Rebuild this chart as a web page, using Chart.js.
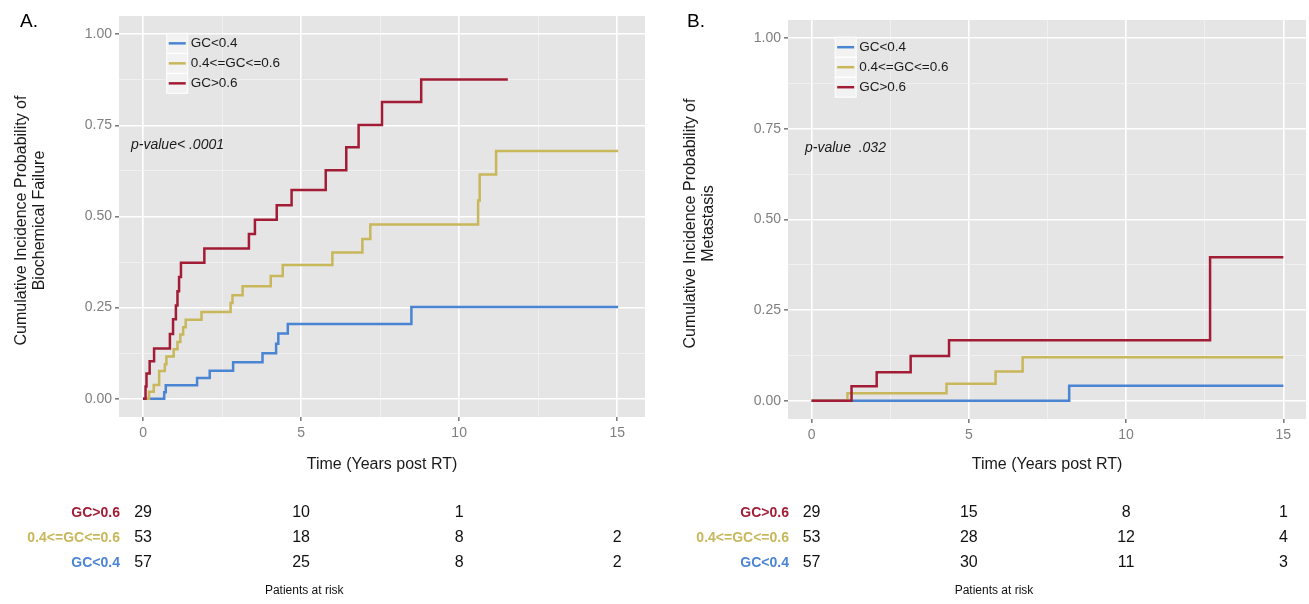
<!DOCTYPE html>
<html>
<head>
<meta charset="utf-8">
<script src="https://cdn.jsdelivr.net/npm/chart.js@4.4.0/dist/chart.umd.min.js"></script>
<style>
html, body { margin: 0; padding: 0; background: #fff; }
#wrap { position: relative; width: 1309px; height: 604px; }
canvas { position: absolute; top: 0; }
</style>
</head>
<body>
<div id="wrap">
  <canvas id="panelA" width="655" height="604" style="left:0"></canvas>
  <canvas id="panelB" width="654" height="604" style="left:655px"></canvas>
</div>
<script>
const FONT = "'Liberation Sans', Arial, sans-serif";

// groups, in legend order
const groupLabels = ['GC<0.4', '0.4<=GC<=0.6', 'GC>0.6'];
const groupColors = ['#4a85d3', '#c8b75b', '#a31c35'];

// A. biochemical failure (time in years, cumulative incidence)
const bfLowTimes  = [0, 0.67, 0.72, 1.71, 2.11, 2.85, 3.78, 4.21, 4.28, 4.58, 8.49, 15.03];
const bfLowValues = [0, 0.018, 0.037, 0.057, 0.077, 0.100, 0.125, 0.151, 0.179, 0.205, 0.252, 0.252];
const bfMidTimes  = [0, 0.19, 0.34, 0.51, 0.69, 0.74, 0.97, 1.09, 1.18, 1.27, 1.35, 1.85, 2.77, 2.83, 3.15, 4.04, 4.42, 5.99, 6.94, 7.19, 10.60, 10.65, 11.17, 15.03];
const bfMidValues = [0, 0.019, 0.038, 0.076, 0.095, 0.116, 0.136, 0.156, 0.176, 0.196, 0.217, 0.238, 0.263, 0.284, 0.309, 0.337, 0.367, 0.401, 0.438, 0.478, 0.544, 0.615, 0.680, 0.680];
const bfHighTimes  = [0, 0.08, 0.11, 0.21, 0.35, 0.85, 0.95, 1.04, 1.09, 1.14, 1.20, 1.94, 3.35, 3.54, 4.23, 4.70, 5.78, 6.43, 6.82, 7.56, 8.80, 11.54];
const bfHighValues = [0, 0.034, 0.069, 0.103, 0.138, 0.178, 0.218, 0.256, 0.295, 0.334, 0.373, 0.412, 0.452, 0.491, 0.531, 0.573, 0.627, 0.690, 0.751, 0.814, 0.876, 0.876];

// B. metastasis
const metLowTimes  = [0, 8.19, 15.0];
const metLowValues = [0, 0.042, 0.042];
const metMidTimes  = [0, 1.14, 4.29, 5.85, 6.71, 15.0];
const metMidValues = [0, 0.021, 0.047, 0.081, 0.120, 0.120];
const metHighTimes  = [0, 1.27, 2.07, 3.15, 4.37, 12.67, 15.0];
const metHighValues = [0, 0.040, 0.079, 0.124, 0.167, 0.396, 0.396];

// patients at risk
const riskTimes = [0, 5, 10, 15];
const riskRowLabels = ['GC>0.6', '0.4<=GC<=0.6', 'GC<0.4'];
const riskRowColors = ['#a31c35', '#c8b75b', '#4a85d3'];
const bfRiskHigh = [29, 10, 1, null];
const bfRiskMid  = [53, 18, 8, 2];
const bfRiskLow  = [57, 25, 8, 2];
const metRiskHigh = [29, 15, 8, 1];
const metRiskMid  = [53, 28, 12, 4];
const metRiskLow  = [57, 30, 11, 3];

// grid / tick values
const xGridValues = [0, 2.5, 5, 7.5, 10, 12.5, 15];
const yGridValues = [0, 0.125, 0.25, 0.375, 0.5, 0.625, 0.75, 0.875, 1];

const isMajorX = v => v % 5 === 0;
const isMajorY = v => v % 0.25 === 0;

const decor = {
  id: 'decor',
  beforeDraw(chart, args, o) {
    const { ctx, chartArea: a } = chart;
    ctx.save();
    ctx.fillStyle = '#e5e5e5';
    ctx.fillRect(a.left, a.top, a.right - a.left, a.bottom - a.top);
    ctx.restore();
  },
  afterDraw(chart, args, o) {
    const { ctx, chartArea: a, scales: { x, y } } = chart;
    ctx.save();

    // panel letter
    ctx.fillStyle = '#000';
    ctx.font = '19px ' + FONT;
    ctx.textAlign = 'left';
    ctx.textBaseline = 'middle';
    ctx.fillText(o.letter, o.letterX, 22);

    // y title
    ctx.save();
    ctx.translate(o.yTitleX, (a.top + a.bottom) / 2 + 4);
    ctx.rotate(-Math.PI / 2);
    ctx.font = '16px ' + FONT;
    ctx.fillStyle = '#1a1a1a';
    ctx.textAlign = 'center';
    o.yTitle.forEach((line, i) => ctx.fillText(line, 0, i * 18));
    ctx.restore();

    // x title
    ctx.font = '16px ' + FONT;
    ctx.fillStyle = '#1a1a1a';
    ctx.textAlign = 'center';
    ctx.fillText('Time (Years post RT)', (a.left + a.right) / 2, 465);

    // p-value
    ctx.font = 'italic 14px ' + FONT;
    ctx.textAlign = 'left';
    ctx.fillText(o.pValue, a.left + o.pValueDx, y.getPixelForValue(0.697));

    // legend, inside the panel
    const lx = x.getPixelForValue(0.75);
    const ly = y.getPixelForValue(0.975);
    ctx.fillStyle = '#f2f2f2';
    ctx.fillRect(lx, ly - 10, 21, 60);
    ctx.strokeStyle = '#fff';
    ctx.lineWidth = 1;
    for (let i = 0; i < 3; i++) ctx.strokeRect(lx, ly - 10 + i * 20, 21, 20);
    groupLabels.forEach((lab, i) => {
      const yy = ly + i * 20;
      ctx.strokeStyle = groupColors[i];
      ctx.lineWidth = 2.5;
      ctx.beginPath();
      ctx.moveTo(lx + 2, yy);
      ctx.lineTo(lx + 19, yy);
      ctx.stroke();
      ctx.fillStyle = '#1a1a1a';
      ctx.font = '13.5px ' + FONT;
      ctx.textAlign = 'left';
      ctx.fillText(lab, lx + 24, yy);
    });

    // patients at risk table
    const rowY = [513, 538, 563];
    o.risk.forEach((row, r) => {
      ctx.font = 'bold 14px ' + FONT;
      ctx.fillStyle = riskRowColors[r];
      ctx.textAlign = 'right';
      ctx.fillText(riskRowLabels[r], a.left + o.riskLabelDx, rowY[r]);
      ctx.font = '16px ' + FONT;
      ctx.fillStyle = '#111';
      ctx.textAlign = 'center';
      row.forEach((n, i) => {
        if (n === null) return;
        ctx.fillText(String(n), x.getPixelForValue(riskTimes[i]), rowY[r]);
      });
    });
    ctx.font = '12px ' + FONT;
    ctx.fillStyle = '#111';
    ctx.textAlign = 'center';
    ctx.fillText('Patients at risk', x.getPixelForValue(o.riskTitleAt), 591);

    ctx.restore();
  }
};

function steps(times, values) {
  return times.map((t, i) => ({ x: t, y: values[i] }));
}

function makePanel(id, p) {
  const canvas = document.getElementById(id);
  const series = [
    { times: p.lowT, values: p.lowV },
    { times: p.midT, values: p.midV },
    { times: p.highT, values: p.highV }
  ];
  new Chart(canvas, {
    type: 'line',
    data: {
      datasets: series.map((s, i) => ({
        label: groupLabels[i],
        data: steps(s.times, s.values),
        borderColor: groupColors[i],
        borderWidth: 2.5,
        stepped: 'before',
        pointRadius: 0,
        fill: false,
        borderCapStyle: 'butt',
        borderJoinStyle: 'miter',
        order: 3 - i
      }))
    },
    options: {
      responsive: false,
      animation: false,
      devicePixelRatio: 1,
      layout: { padding: { top: p.top, right: canvas.width - p.right, left: 0, bottom: 0 } },
      plugins: {
        legend: { display: false },
        tooltip: { enabled: false },
        decor: p.decor
      },
      scales: {
        x: {
          type: 'linear',
          min: p.xMin,
          max: p.xMax,
          afterBuildTicks: s => { s.ticks = xGridValues.map(v => ({ value: v })); },
          afterFit: s => { s.height = canvas.height - p.bottom; },
          border: { display: false },
          grid: {
            color: c => isMajorX(c.tick.value) ? '#ffffff' : '#f2f2f2',
            lineWidth: c => isMajorX(c.tick.value) ? 1.6 : 0.8,
            tickColor: c => isMajorX(c.tick.value) ? '#7f7f7f' : 'rgba(0,0,0,0)',
            tickLength: 4
          },
          ticks: {
            autoSkip: false,
            maxRotation: 0,
            padding: 4,
            color: '#7f7f7f',
            font: { family: FONT, size: 14 },
            callback: v => isMajorX(v) ? String(v) : ''
          }
        },
        y: {
          type: 'linear',
          min: -0.05,
          max: 1.05,
          afterBuildTicks: s => { s.ticks = yGridValues.map(v => ({ value: v })); },
          afterFit: s => { s.width = p.left; },
          border: { display: false },
          grid: {
            color: c => isMajorY(c.tick.value) ? '#ffffff' : '#f2f2f2',
            lineWidth: c => isMajorY(c.tick.value) ? 1.6 : 0.8,
            tickColor: c => isMajorY(c.tick.value) ? '#7f7f7f' : 'rgba(0,0,0,0)',
            tickLength: 4
          },
          ticks: {
            autoSkip: false,
            padding: 3,
            color: '#7f7f7f',
            font: { family: FONT, size: 14 },
            callback: v => isMajorY(v) ? v.toFixed(2) : ''
          }
        }
      }
    },
    plugins: [decor]
  });
}

makePanel('panelA', {
  lowT: bfLowTimes, lowV: bfLowValues,
  midT: bfMidTimes, midV: bfMidValues,
  highT: bfHighTimes, highV: bfHighValues,
  left: 119, right: 645, top: 16, bottom: 417,
  xMin: -0.76, xMax: 15.88,
  decor: {
    letter: 'A.', letterX: 20, yTitleX: 22,
    yTitle: ['Cumulative Incidence Probability of', 'Biochemical Failure'],
    pValue: 'p-value< .0001', pValueDx: 12,
    risk: [bfRiskHigh, bfRiskMid, bfRiskLow], riskLabelDx: 1, riskTitleAt: 5.1
  }
});

makePanel('panelB', {
  lowT: metLowTimes, lowV: metLowValues,
  midT: metMidTimes, midV: metMidValues,
  highT: metHighTimes, highV: metHighValues,
  left: 133, right: 651, top: 20, bottom: 419,
  xMin: -0.75, xMax: 15.72,
  decor: {
    letter: 'B.', letterX: 32, yTitleX: 36,
    yTitle: ['Cumulative Incidence Probability of', 'Metastasis'],
    pValue: 'p-value  .032', pValueDx: 17,
    risk: [metRiskHigh, metRiskMid, metRiskLow], riskLabelDx: 1, riskTitleAt: 5.8
  }
});
</script>
</body>
</html>
